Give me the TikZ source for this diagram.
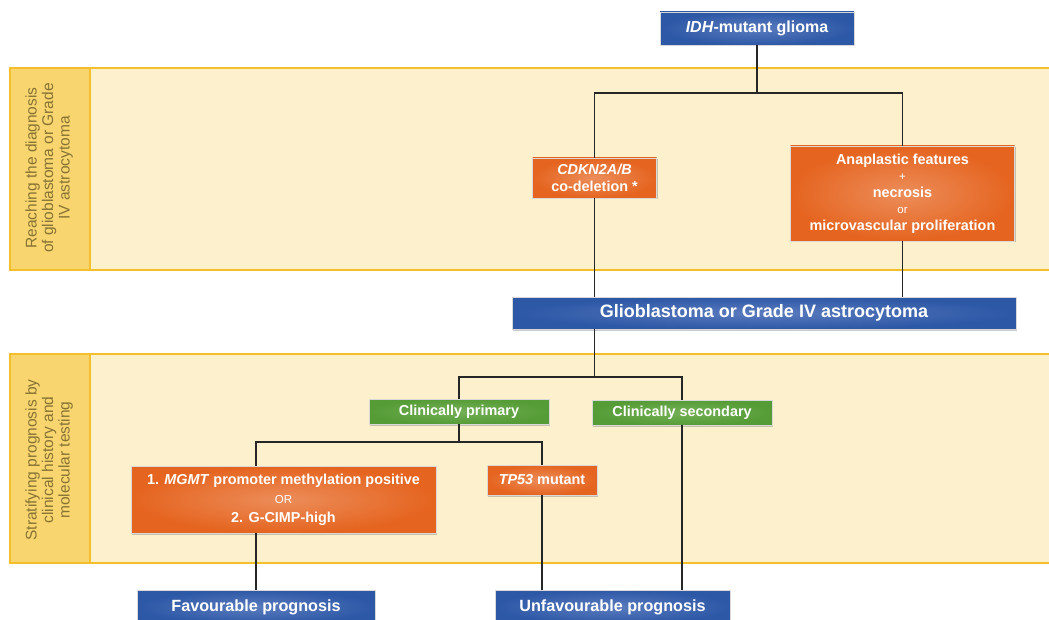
\documentclass[tikz,border=0pt]{standalone}
\usepackage{fontspec}
\setmainfont{Liberation Sans}
\usetikzlibrary{shadows}
\definecolor{bandlight}{HTML}{FDF0CD}
\definecolor{bandlabel}{HTML}{F8D56E}
\definecolor{bandedge}{HTML}{F5BF2C}
\definecolor{labeltext}{HTML}{867233}
\definecolor{blueout}{HTML}{2D58A6}
\definecolor{bluein}{HTML}{5A7BBE}
\definecolor{orangeout}{HTML}{E5641F}
\definecolor{orangein}{HTML}{EC8D5A}
\definecolor{greenout}{HTML}{559C36}
\definecolor{greenin}{HTML}{74B056}
\tikzset{
  box/.style={draw=white!85!black, line width=0.6pt, text=white, font=\bfseries, align=center,
    inner sep=0pt, drop shadow={shadow xshift=1.2pt, shadow yshift=-1.5pt, opacity=0.35, fill=black!60}},
  bluebox/.style={box, inner color=bluein, outer color=blueout},
  orangebox/.style={box, inner color=orangein, outer color=orangeout},
  greenbox/.style={box, inner color=greenin, outer color=greenout},
  conn/.style={line width=1.3pt, black!85},
  band/.style={fill=bandlight, draw=bandedge, line width=1.5pt},
  bandlab/.style={fill=bandlabel, draw=bandedge, line width=1.5pt},
  bandtext/.style={rotate=90, text=labeltext, align=center, font=\fontsize{15.5}{16.5}\selectfont}
}
\begin{document}
\begin{tikzpicture}[x=1pt,y=-1pt]
\useasboundingbox (0,0) rectangle (1049,620);
\clip (0,0) rectangle (1049,620);
% bands
\draw[band] (10,68) rectangle (1060,270);
\draw[bandlab] (10,68) rectangle (90,270);
\node[bandtext] (lab1) at (49,168) {Reaching the diagnosis\\of glioblastoma or Grade\\IV astrocytoma};
\draw[band] (10,354) rectangle (1060,563);
\draw[bandlab] (10,354) rectangle (90,563);
\node[bandtext] (lab2) at (49,460) {Stratifying prognosis by\\clinical history and\\molecular testing};
% nodes
\node[bluebox, minimum width=194pt, minimum height=33pt, font=\bfseries\fontsize{16}{18}\selectfont] (idh) at (757,28.5) {\textit{IDH}-mutant glioma};
\node[orangebox, minimum width=124pt, minimum height=40pt, font=\bfseries\fontsize{14.4}{17}\selectfont] (cdkn) at (594.5,178) {\textit{CDKN2A/B}\\co-deletion *};
\node[orangebox, minimum width=224pt, minimum height=95pt, font=\bfseries\fontsize{14.4}{16.5}\selectfont] (ana) at (902.5,193.5) {Anaplastic features\\{\mdseries\fontsize{11.5}{16.5}\selectfont +}\\necrosis\\{\mdseries\fontsize{11.5}{16.5}\selectfont or}\\microvascular proliferation};
\node[bluebox, minimum width=504pt, minimum height=32pt, font=\bfseries\fontsize{18}{20}\selectfont] (glio) at (764,313) {Glioblastoma or Grade IV astrocytoma};
\node[greenbox, minimum width=180pt, minimum height=25pt, font=\bfseries\fontsize{14.4}{16}\selectfont] (prim) at (459,411.5) {Clinically primary};
\node[greenbox, minimum width=180pt, minimum height=25pt, font=\bfseries\fontsize{14.4}{16}\selectfont] (sec) at (682,412.5) {Clinically secondary};
\node[orangebox, minimum width=305pt, minimum height=67pt, font=\bfseries\fontsize{14.4}{19}\selectfont] (mgmt) at (283.5,499.5) {1. \textit{MGMT} promoter methylation positive\\{\mdseries\fontsize{11.5}{19}\selectfont OR}\\2. G-CIMP-high};
\node[orangebox, minimum width=110pt, minimum height=30pt, font=\bfseries\fontsize{14.4}{16}\selectfont] (tp53) at (542,480) {\textit{TP53} mutant};
\node[bluebox, minimum width=238pt, minimum height=34pt, font=\bfseries\fontsize{16.2}{18}\selectfont] (fav) at (256,607) {Favourable prognosis};
\node[bluebox, minimum width=235pt, minimum height=34pt, font=\bfseries\fontsize{16.2}{18}\selectfont] (unfav) at (612.5,607) {Unfavourable prognosis};
% junctions
\coordinate (s1) at (757,93);
\coordinate (s2) at (594.5,377);
\coordinate (s3) at (459,442);
% connectors
\draw[conn] (idh.south) -- (s1);
\draw[conn] (cdkn.north) |- (s1) -| (ana.north);
\draw[conn] (cdkn.south) -- (cdkn.south |- glio.north);
\draw[conn] (ana.south) -- (ana.south |- glio.north);
\draw[conn] (cdkn.south |- glio.south) -- (s2);
\draw[conn] (prim.north) |- (s2) -| (sec.north);
\draw[conn] (prim.south) -- (s3);
\draw[conn] (fav.north |- mgmt.north) |- (s3) -| (tp53.north);
\draw[conn] (fav.north |- mgmt.south) -- (fav.north);
\draw[conn] (tp53.south) -- (tp53.south |- unfav.north);
\draw[conn] (sec.south) -- (sec.south |- unfav.north);
\end{tikzpicture}
\end{document}
